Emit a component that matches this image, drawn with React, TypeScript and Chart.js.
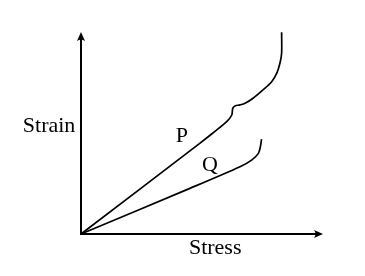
import React, { useEffect, useRef } from "react";
import { Chart, registerables } from "chart.js";

Chart.register(...registerables);

// Curve P (stress, strain) in arbitrary units
const pStress = [0, 49.2, 54.5, 60.2, 62.3, 62.7, 63.6, 65.7, 67.8, 71.1, 75.2, 78.8, 80.9, 82.2, 82.9, 82.9];
const pStrain = [0, 45.0, 50.0, 55.6, 58.9, 62.2, 63.4, 63.9, 64.7, 67.2, 71.3, 75.4, 79.6, 84.5, 89.5, 99.9];
// Curve Q
const qStress = [0, 45.0, 65.7, 70.5, 73.3, 74.2, 74.6];
const qStrain = [0, 22.6, 33.3, 36.6, 39.9, 43.6, 47.0];

const axisTitles = ["Stress", "Strain"];
const curveNames = ["P", "Q"];

const FONT = '22px "Liberation Serif", "Times New Roman", "DejaVu Serif", serif';

const toPoints = (xs: number[], ys: number[]) => xs.map((x, i) => ({ x, y: ys[i] }));

const labelPlugin = {
  id: "sketchAxes",
  afterDraw(chart: any) {
    const ctx = chart.ctx;
    const xs = chart.scales.x;
    const ys = chart.scales.y;
    const x0 = xs.getPixelForValue(0);
    const y0 = ys.getPixelForValue(0);
    const xEnd = xs.getPixelForValue(100);
    const yEnd = ys.getPixelForValue(100);
    ctx.save();
    ctx.strokeStyle = "#000";
    ctx.fillStyle = "#000";
    ctx.lineWidth = 2;
    ctx.beginPath();
    ctx.moveTo(x0, y0 + 1);
    ctx.lineTo(x0, yEnd + 4);
    ctx.moveTo(x0 - 1, y0);
    ctx.lineTo(xEnd - 4, y0);
    ctx.stroke();
    // arrowheads
    ctx.beginPath();
    ctx.moveTo(x0, yEnd);
    ctx.lineTo(x0 - 4, yEnd + 9);
    ctx.quadraticCurveTo(x0, yEnd + 6, x0 + 4, yEnd + 9);
    ctx.closePath();
    ctx.fill();
    ctx.beginPath();
    ctx.moveTo(xEnd, y0);
    ctx.lineTo(xEnd - 9, y0 - 4);
    ctx.quadraticCurveTo(xEnd - 6, y0, xEnd - 9, y0 + 4);
    ctx.closePath();
    ctx.fill();

    ctx.font = FONT;
    ctx.textBaseline = "alphabetic";
    ctx.textAlign = "left";
    ctx.fillText(axisTitles[0], xs.getPixelForValue(44.6), ys.getPixelForValue(-9.9));
    ctx.textAlign = "center";
    ctx.fillText(axisTitles[1], xs.getPixelForValue(-13.2), ys.getPixelForValue(50.5));
    ctx.textAlign = "left";
    ctx.fillText(curveNames[0], xs.getPixelForValue(39.2), ys.getPixelForValue(45.7));
    ctx.fillText(curveNames[1], xs.getPixelForValue(50.0), ys.getPixelForValue(31.0));
    ctx.restore();
  },
};

export default function App() {
  const ref = useRef<HTMLCanvasElement>(null);
  useEffect(() => {
    if (!ref.current) return;
    const chart = new Chart(ref.current, {
      type: "scatter",
      data: {
        datasets: [
          {
            label: "P",
            data: toPoints(pStress, pStrain),
            showLine: true,
            borderColor: "#000",
            borderWidth: 1.7,
            pointRadius: 0,
            tension: 0.3,
            clip: false as any,
          },
          {
            label: "Q",
            data: toPoints(qStress, qStrain),
            showLine: true,
            borderColor: "#000",
            borderWidth: 1.7,
            pointRadius: 0,
            tension: 0.3,
            clip: false as any,
          },
        ],
      },
      options: {
        animation: false,
        responsive: false,
        maintainAspectRatio: false,
        layout: { padding: { left: 81, right: 42, top: 32, bottom: 42 } },
        plugins: { legend: { display: false }, tooltip: { enabled: false } },
        scales: {
          x: { type: "linear", min: 0, max: 100, display: false },
          y: { type: "linear", min: 0, max: 100, display: false },
        },
      },
      plugins: [labelPlugin],
    });
    let alive = true;
    if ((document as any).fonts && (document as any).fonts.load) {
      (document as any).fonts.load('22px "Liberation Serif"', "StrainPQ").then(() => {
        if (alive) chart.update();
      }).catch(() => {});
    }
    return () => {
      alive = false;
      chart.destroy();
    };
  }, []);
  return (
    <div style={{ position: "absolute", left: 0, top: 0, width: 365, height: 276, background: "#fff" }}>
      <span style={{ position: "absolute", left: -9999, top: 0, fontFamily: '"Liberation Serif"', fontSize: 22 }}>StrainStressPQ</span>
      <canvas ref={ref} width={365} height={276} />
    </div>
  );
}
